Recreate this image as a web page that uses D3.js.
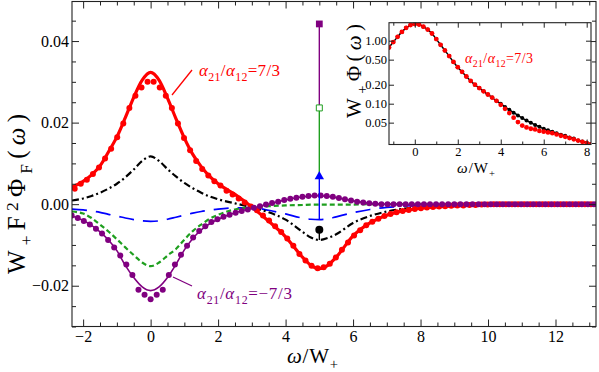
<!DOCTYPE html>
<html>
<head>
<meta charset="utf-8">
<script src="https://cdn.jsdelivr.net/npm/d3@7"></script>
<style>
body { margin: 0; background: #fff; }
svg, svg text { font-family: "Liberation Serif", "Times New Roman", Tinos, serif; }
.main-axis text { font-size: 16px; fill: #000; }
.inset-axis text { font-size: 12.5px; fill: #000; }
.main-axis line, .inset-axis line { stroke: #222; }
</style>
</head>
<body>
<svg id="chart" width="599" height="372"></svg>
<script>

// ---- main panel data (omega / W+) ----
var lineX      = [-2.33, -2, -1.75, -1.5, -1.25, -1, -0.75, -0.5, -0.25, 0, 0.25, 0.5, 0.75, 1, 1.25, 1.5, 1.75, 2, 2.5, 3, 3.5, 4, 4.5, 4.75, 5, 5.25, 5.5, 6, 6.5, 7, 7.5, 8, 9, 10, 13.2];
var redLine    = [0.0042, 0.0056, 0.0072, 0.0094, 0.0128, 0.0165, 0.0212, 0.0262, 0.0304, 0.0323, 0.0304, 0.0260, 0.0210, 0.0162, 0.0122, 0.0092, 0.0068, 0.0050, 0.0024, -0.0007, -0.0042, -0.0080, -0.0130, -0.0150, -0.0158, -0.0150, -0.0130, -0.0078, -0.0046, -0.0027, -0.0016, -0.0010, -0.0004, -0.0001, 0];
var blackLine  = [0.0009, 0.0014, 0.0020, 0.0028, 0.0038, 0.0050, 0.0066, 0.0085, 0.0106, 0.0117, 0.0106, 0.0086, 0.0068, 0.0052, 0.0039, 0.0028, 0.0019, 0.0012, 0.0002, -0.0008, -0.0020, -0.0038, -0.0068, -0.0082, -0.0088, -0.0083, -0.0074, -0.0046, -0.0029, -0.0018, -0.0011, -0.0007, -0.0002, 0, 0];
var greenLine  = [-0.0018, -0.0023, -0.0034, -0.0050, -0.0067, -0.0086, -0.0106, -0.0125, -0.0143, -0.0152, -0.0143, -0.0126, -0.0110, -0.0087, -0.0066, -0.0050, -0.0036, -0.0026, -0.0013, -0.0008, -0.0005, -0.0003, -0.0002, -0.0001, -0.0001, -0.0001, -0.0001, -0.0001, 0, 0, 0, 0, 0, 0, 0];
var blueLine   = [-0.0012, -0.0014, -0.0017, -0.0020, -0.0025, -0.0029, -0.0034, -0.0038, -0.0041, -0.0042, -0.0041, -0.0037, -0.0032, -0.0027, -0.0022, -0.0018, -0.0015, -0.0012, -0.0009, -0.0009, -0.0015, -0.0024, -0.0034, -0.0037, -0.0038, -0.0036, -0.0031, -0.0021, -0.0013, -0.0008, -0.0005, -0.0003, -0.0001, 0, 0];
var purpleLine = [-0.0029, -0.0040, -0.0052, -0.0068, -0.0088, -0.0114, -0.0150, -0.0180, -0.0203, -0.0212, -0.0203, -0.0180, -0.0148, -0.0112, -0.0084, -0.0063, -0.0048, -0.0037, -0.0021, -0.0010, 0, 0.0010, 0.0018, 0.0020, 0.0021, 0.0019, 0.0016, 0.0008, 0.0002, 0, -0.0001, -0.0001, 0, 0, 0];

var redDotX = [-2.25, -2.07, -1.89, -1.71, -1.53, -1.35, -1.17, -0.99, -0.81, -0.63, -0.45, -0.27, -0.09, 0.09, 0.27, 0.45, 0.63, 0.81, 0.99, 1.17, 1.35, 1.53, 1.71, 1.89, 2.07, 2.25, 2.43, 2.61, 2.79, 2.97, 3.15, 3.33, 3.51, 3.69, 3.87, 4.05, 4.23, 4.41, 4.59, 4.77, 4.95, 5.13, 5.31, 5.49, 5.67, 5.85, 6.03, 6.21, 6.39, 6.57, 6.75, 6.93, 7.11, 7.29, 7.47, 7.65, 7.83, 8.01, 8.19, 8.37, 8.55, 8.73, 8.91, 9.09, 9.27, 9.45, 9.63, 9.81, 9.99, 10.17, 10.35, 10.53, 10.71, 10.89, 11.07, 11.25, 11.43, 11.61, 11.79, 11.97, 12.15, 12.33, 12.51, 12.69, 12.87, 13.05, 13.23];
var redDotY = [0.0038, 0.0050, 0.0060, 0.0074, 0.0090, 0.0112, 0.0136, 0.0164, 0.0198, 0.0236, 0.0266, 0.0286, 0.0300, 0.0300, 0.0286, 0.0266, 0.0236, 0.0198, 0.0162, 0.0132, 0.0106, 0.0086, 0.0070, 0.0056, 0.0046, 0.0033, 0.0024, 0.0014, 0.0004, -0.0006, -0.0015, -0.0028, -0.0040, -0.0054, -0.0068, -0.0084, -0.0102, -0.0122, -0.0138, -0.0151, -0.0157, -0.0155, -0.0146, -0.0131, -0.0112, -0.0094, -0.0077, -0.0064, -0.0052, -0.0043, -0.0036, -0.0029, -0.0024, -0.0020, -0.0017, -0.0014, -0.0012, -0.0010, -0.0008, -0.0007, -0.0006, -0.0005, -0.0004, -0.0003, -0.0003, -0.0002, -0.0002, -0.0001, -0.0001, 0, 0, 0, 0, 0, 0, 0, 0, 0, 0, 0, 0, 0, 0, 0, 0, 0, 0];

var purpleDotX = [-2.34, -2.16, -1.98, -1.80, -1.62, -1.44, -1.26, -1.08, -0.90, -0.72, -0.54, -0.36, -0.18, 0, 0.18, 0.36, 0.54, 0.72, 0.90, 1.08, 1.26, 1.44, 1.62, 1.80, 1.98, 2.16, 2.34, 2.52, 2.70, 2.88, 3.06, 3.24, 3.42, 3.60, 3.78, 3.96, 4.14, 4.32, 4.50, 4.68, 4.86, 5.04, 5.22, 5.40, 5.58, 5.76, 5.94, 6.12, 6.30, 6.48, 6.66, 6.84, 7.02, 7.20, 7.38, 7.56, 7.74, 7.92, 8.10, 8.28, 8.46, 8.64, 8.82, 9.00, 9.18, 9.36, 9.54, 9.72, 9.90, 10.08, 10.26, 10.44, 10.62, 10.80, 10.98, 11.16, 11.34, 11.52, 11.70, 11.88, 12.06, 12.24, 12.42, 12.60, 12.78, 12.96, 13.14, 13.32];
var purpleDotY = [-0.0028, -0.0034, -0.0041, -0.0050, -0.0060, -0.0072, -0.0088, -0.0106, -0.0126, -0.0148, -0.0174, -0.0210, -0.0222, -0.0233, -0.0222, -0.0210, -0.0174, -0.0148, -0.0124, -0.0102, -0.0082, -0.0066, -0.0054, -0.0044, -0.0037, -0.0031, -0.0026, -0.0021, -0.0017, -0.0013, -0.0009, -0.0005, -0.0001, 0.0003, 0.0006, 0.0010, 0.0013, 0.0016, 0.0018, 0.0020, 0.0021, 0.0021, 0.0020, 0.0018, 0.0015, 0.0012, 0.0009, 0.0006, 0.0004, 0.0002, 0.0001, 0, 0, 0, 0, 0, 0, 0, 0, 0, 0, 0, 0, 0, 0, 0, 0, 0, 0, 0, 0, 0, 0, 0, 0, 0, 0, 0, 0, 0, 0, 0, 0, 0, 0, 0, 0, 0];

// stacked sticks at omega = 5 W+
var stickX = 5;
var stickPurple = [0.0442, 0.0236];
var stickGreen  = [0.0236, 0.0068];
var stickBlue   = [0.0068, -0.0038];
var stickBlack  = [-0.0063, -0.0088];

// main ticks
var xMajor = [-2, 0, 2, 4, 6, 8, 10, 12];
var yMajor = [-0.02, 0, 0.02, 0.04];

// ---- inset data (log scale) ----
var insetX = [-1.2, -1.0, -0.8, -0.6, -0.4, -0.2, 0, 0.2, 0.4, 0.6, 0.8, 1.0, 1.2, 1.4, 1.6, 1.8, 2.0, 2.2, 2.4, 2.6, 2.8, 3.0, 3.2, 3.4, 3.6, 3.8, 4.0, 4.2, 4.4, 4.6, 4.8, 5.0, 5.2, 5.4, 5.6, 5.8, 6.0, 6.2, 6.4, 6.6, 6.8, 7.0, 7.2, 7.4, 7.6, 7.8, 8.0, 8.2];
var insetBlack = [0.78, 0.95, 1.15, 1.38, 1.60, 1.77, 1.84, 1.80, 1.67, 1.50, 1.30, 1.06, 0.86, 0.70, 0.57, 0.46, 0.38, 0.32, 0.27, 0.23, 0.20, 0.177, 0.157, 0.140, 0.125, 0.111, 0.100, 0.089, 0.080, 0.072, 0.065, 0.059, 0.054, 0.050, 0.046, 0.043, 0.040, 0.038, 0.036, 0.034, 0.032, 0.031, 0.029, 0.028, 0.026, 0.025, 0.024, 0.023];
var insetRed   = [0.78, 0.95, 1.15, 1.38, 1.60, 1.77, 1.84, 1.80, 1.67, 1.50, 1.30, 1.06, 0.86, 0.70, 0.57, 0.46, 0.38, 0.32, 0.27, 0.23, 0.20, 0.177, 0.157, 0.140, 0.125, 0.111, 0.096, 0.083, 0.071, 0.060, 0.051, 0.045, 0.042, 0.040, 0.039, 0.037, 0.036, 0.035, 0.034, 0.0325, 0.031, 0.0298, 0.0285, 0.0272, 0.026, 0.0248, 0.0237, 0.0226];
var insetXMajor = [0, 2, 4, 6, 8];
var insetXMinor = [-1, 1, 3, 5, 7];
var insetYMajor = [0.05, 0.1, 0.2, 0.5, 1];

var red = "#ff0000", purple = "#800080", green = "#1f9f1f", blue = "#0000ff";
var serif = "'Liberation Serif', 'Times New Roman', Tinos, serif";

var svg = d3.select("#chart");

//helper for text with sub/superscripts
function richText(parent, parts, size) {
    var t = parent.append("text")
        .attr("font-family", serif)
        .style("font-size", size + "px");
    var shift = 0;
    parts.forEach(function(p) {
        var dy = 0, fs = size;
        if (p.sub) { dy = size * 0.28; fs = size * 0.7; }
        if (p.sup) { dy = -size * 0.3; fs = size * 0.7; }
        t.append("tspan")
            .attr("dy", (dy - shift).toFixed(2))
            .style("font-size", fs + "px")
            .style("font-style", p.it ? "italic" : "normal")
            .text(p.s);
        shift = dy;
    });
    return t;
}

function ratioParts(sign) {
    return [{s: "\u03b1", it: true}, {s: "21", sub: true}, {s: "/"}, {s: "\u03b1", it: true}, {s: "12", sub: true}, {s: "=" + sign + "7/3"}];
}

function zipPts(xs, ys) {
    return xs.map(function(v, i) { return {x: v, y: ys[i]}; });
}

/* MAIN PANEL */

var plot = {left: 72, right: 596, top: 1.5, bottom: 326.5};
var x = d3.scaleLinear().domain([-2.33, 13.2]).range([plot.left, plot.right]);
var y = d3.scaleLinear().domain([-0.0300, 0.0497]).range([plot.bottom, plot.top]);

svg.append("clipPath").attr("id", "clipMain")
    .append("rect")
    .attr("x", plot.left).attr("y", plot.top)
    .attr("width", plot.right - plot.left).attr("height", plot.bottom - plot.top);

var line = d3.line()
    .x(function(d) { return x(d.x); })
    .y(function(d) { return y(d.y); })
    .curve(d3.curveMonotoneX);

var curves = svg.append("g").attr("clip-path", "url(#clipMain)");

var series = [
    {ys: blueLine,   color: blue,   width: 1.7, dash: "15,9"},
    {ys: greenLine,  color: green,  width: 2.2, dash: "5,3"},
    {ys: blackLine,  color: "#000", width: 2.2, dash: "7,3,2,3"},
    {ys: redLine,    color: red,    width: 3.2, dash: null},
    {ys: purpleLine, color: purple, width: 1.6, dash: null}
];

curves.selectAll("path.curve")
    .data(series)
    .enter().append("path")
    .attr("class", "curve")
    .attr("d", function(d) { return line(zipPts(lineX, d.ys)); })
    .style("fill", "none")
    .style("stroke", function(d) { return d.color; })
    .style("stroke-width", function(d) { return d.width; })
    .style("stroke-dasharray", function(d) { return d.dash; });

//dots
curves.append("g")
    .selectAll("circle")
    .data(zipPts(redDotX, redDotY))
    .enter().append("circle")
    .attr("cx", function(d) { return x(d.x); })
    .attr("cy", function(d) { return y(d.y); })
    .attr("r", 3)
    .style("fill", red);

curves.append("g")
    .selectAll("circle")
    .data(zipPts(purpleDotX, purpleDotY))
    .enter().append("circle")
    .attr("cx", function(d) { return x(d.x); })
    .attr("cy", function(d) { return y(d.y); })
    .attr("r", 3)
    .style("fill", purple);

//sticks at omega = 5
var sticks = svg.append("g");
[[stickPurple, purple], [stickGreen, green], [stickBlue, blue], [stickBlack, "#000"]].forEach(function(s) {
    sticks.append("line")
        .attr("x1", x(stickX)).attr("x2", x(stickX))
        .attr("y1", y(s[0][0])).attr("y2", y(s[0][1]))
        .style("stroke", s[1])
        .style("stroke-width", 1.4);
});
sticks.append("path")
    .attr("d", d3.symbol().type(d3.symbolSquare).size(46))
    .attr("transform", "translate(" + x(stickX) + "," + y(stickPurple[0]) + ")")
    .style("fill", purple);
sticks.append("path")
    .attr("d", d3.symbol().type(d3.symbolSquare).size(36))
    .attr("transform", "translate(" + x(stickX) + "," + y(stickGreen[0]) + ")")
    .style("fill", "#fff").style("stroke", green).style("stroke-width", 1);
sticks.append("path")
    .attr("d", d3.symbol().type(d3.symbolTriangle).size(38))
    .attr("transform", "translate(" + x(stickX) + "," + y(stickBlue[0]) + ")")
    .style("fill", blue);
sticks.append("circle")
    .attr("cx", x(stickX)).attr("cy", y(stickBlack[0]))
    .attr("r", 4)
    .style("fill", "#000");

//frame and ticks
var xMinor = d3.range(-2, 13.01, 0.5).filter(function(v) { return xMajor.indexOf(v) < 0; });
var yMinor = d3.range(-0.03, 0.0451, 0.005).filter(function(v) {
    return Math.abs(v / 0.02 - Math.round(v / 0.02)) > 1e-6;
});

function addAxis(axis, tx, ty, cls) {
    var g = svg.append("g")
        .attr("class", cls)
        .attr("transform", "translate(" + tx + "," + ty + ")")
        .call(axis)
        .attr("font-family", serif);
    g.select(".domain").remove();
    return g;
}

addAxis(d3.axisBottom(x).tickValues(xMajor).tickSize(-7).tickPadding(4).tickFormat(d3.format("d")), 0, plot.bottom, "main-axis");
addAxis(d3.axisBottom(x).tickValues(xMinor).tickSize(-4).tickFormat(""), 0, plot.bottom, "main-axis");
addAxis(d3.axisTop(x).tickValues(xMajor).tickSize(-7).tickFormat(""), 0, plot.top, "main-axis");
addAxis(d3.axisTop(x).tickValues(xMinor).tickSize(-4).tickFormat(""), 0, plot.top, "main-axis");
addAxis(d3.axisLeft(y).tickValues(yMajor).tickSize(-7).tickPadding(3).tickFormat(d3.format(".2f")), plot.left, 0, "main-axis");
addAxis(d3.axisLeft(y).tickValues(yMinor).tickSize(-4).tickFormat(""), plot.left, 0, "main-axis");
addAxis(d3.axisRight(y).tickValues(yMajor).tickSize(-7).tickFormat(""), plot.right, 0, "main-axis");
addAxis(d3.axisRight(y).tickValues(yMinor).tickSize(-4).tickFormat(""), plot.right, 0, "main-axis");

svg.append("rect")
    .attr("x", plot.left).attr("y", plot.top)
    .attr("width", plot.right - plot.left).attr("height", plot.bottom - plot.top)
    .style("fill", "none").style("stroke", "#222").style("stroke-width", 1.1);

//axis labels
richText(svg, [{s: "\u03c9", it: true}, {s: "/W"}, {s: "+", sub: true}], 21)
    .attr("x", 287).attr("y", 363)
    .attr("textLength", 51).attr("lengthAdjust", "spacing");

richText(svg, [{s: "W"}, {s: "+", sub: true}, {s: "F"}, {s: "2", sup: true}, {s: "\u03a6"}, {s: "F", sub: true}, {s: "("}, {s: "\u03c9", it: true}, {s: ")"}], 25)
    .attr("transform", "translate(25,274) rotate(-90)")
    .attr("textLength", 160).attr("lengthAdjust", "spacing");

//annotations
svg.append("line").attr("x1", 192).attr("y1", 70).attr("x2", 172).attr("y2", 95)
    .style("stroke", red).style("stroke-width", 1.3);
richText(svg, ratioParts(""), 17)
    .attr("x", 199).attr("y", 76)
    .attr("textLength", 81).attr("lengthAdjust", "spacing")
    .style("fill", red);

svg.append("line").attr("x1", 173).attr("y1", 277).attr("x2", 192).attr("y2", 286)
    .style("stroke", purple).style("stroke-width", 1.3);
richText(svg, ratioParts("\u2212"), 17)
    .attr("x", 197).attr("y", 299)
    .attr("textLength", 95).attr("lengthAdjust", "spacing")
    .style("fill", purple);

/* INSET */

var inset = {left: 389, right: 591, top: 22.7, bottom: 144.5};
var ix = d3.scaleLinear().domain([-1.2, 8.2]).range([inset.left, inset.right]);
var iy = d3.scaleLog().domain([0.0225, 1.93]).range([inset.bottom, inset.top]);

svg.append("rect")
    .attr("x", inset.left).attr("y", inset.top)
    .attr("width", inset.right - inset.left).attr("height", inset.bottom - inset.top)
    .style("fill", "#fff");

svg.append("clipPath").attr("id", "clipInset")
    .append("rect")
    .attr("x", inset.left).attr("y", inset.top)
    .attr("width", inset.right - inset.left).attr("height", inset.bottom - inset.top);

var ig = svg.append("g").attr("clip-path", "url(#clipInset)");

var iline = d3.line()
    .x(function(d) { return ix(d.x); })
    .y(function(d) { return iy(d.y); })
    .curve(d3.curveMonotoneX);

ig.append("path")
    .attr("d", iline(zipPts(insetX, insetBlack)))
    .style("fill", "none").style("stroke", "#000").style("stroke-width", 1.5);

ig.append("g").selectAll("circle")
    .data(zipPts(insetX, insetBlack))
    .enter().append("circle")
    .attr("cx", function(d) { return ix(d.x); })
    .attr("cy", function(d) { return iy(d.y); })
    .attr("r", 2)
    .style("fill", "#000");

ig.append("g").selectAll("circle")
    .data(zipPts(insetX, insetRed))
    .enter().append("circle")
    .attr("cx", function(d) { return ix(d.x); })
    .attr("cy", function(d) { return iy(d.y); })
    .attr("r", 2.4)
    .style("fill", red);

addAxis(d3.axisBottom(ix).tickValues(insetXMajor).tickSize(-5).tickPadding(3).tickFormat(d3.format("d")), 0, inset.bottom, "inset-axis");
addAxis(d3.axisBottom(ix).tickValues(insetXMinor).tickSize(-3).tickFormat(""), 0, inset.bottom, "inset-axis");
addAxis(d3.axisTop(ix).tickValues(insetXMajor).tickSize(-5).tickFormat(""), 0, inset.top, "inset-axis");
addAxis(d3.axisTop(ix).tickValues(insetXMinor).tickSize(-3).tickFormat(""), 0, inset.top, "inset-axis");
addAxis(d3.axisLeft(iy).tickValues(insetYMajor).tickSize(-5).tickPadding(2).tickFormat(d3.format(".2f")), inset.left, 0, "inset-axis");
addAxis(d3.axisRight(iy).tickValues(insetYMajor).tickSize(-5).tickFormat(""), inset.right, 0, "inset-axis");

svg.append("rect")
    .attr("x", inset.left).attr("y", inset.top)
    .attr("width", inset.right - inset.left).attr("height", inset.bottom - inset.top)
    .style("fill", "none").style("stroke", "#222").style("stroke-width", 1.1);

richText(svg, [{s: "\u03c9", it: true}, {s: "/W"}, {s: "+", sub: true}], 15)
    .attr("x", 457).attr("y", 173)
    .attr("textLength", 38).attr("lengthAdjust", "spacing");

richText(svg, [{s: "W"}, {s: "+", sub: true}, {s: "\u03a6"}, {s: "("}, {s: "\u03c9", it: true}, {s: ")"}], 21)
    .attr("transform", "translate(361,118) rotate(-90)")
    .attr("textLength", 94).attr("lengthAdjust", "spacing");

richText(svg, ratioParts(""), 14)
    .attr("x", 465).attr("y", 63)
    .attr("textLength", 68).attr("lengthAdjust", "spacing")
    .style("fill", red);

</script>
</body>
</html>
